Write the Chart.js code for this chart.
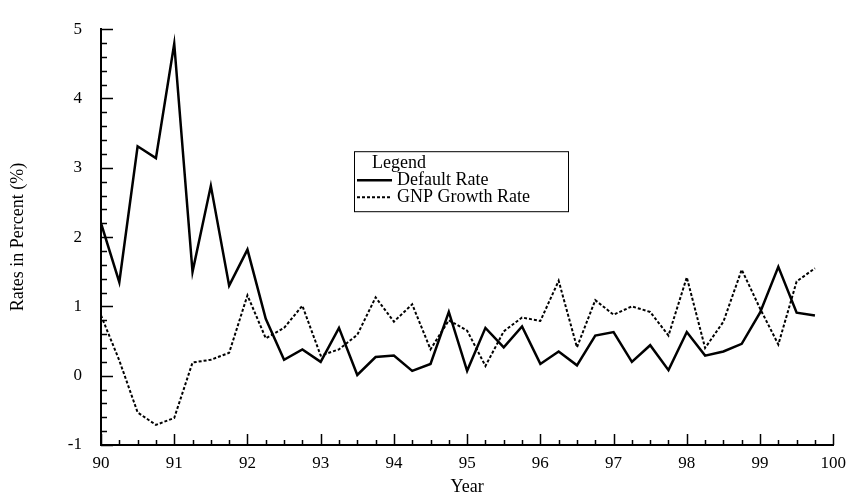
<!DOCTYPE html>
<html>
<head>
<meta charset="utf-8">
<script src="https://cdn.jsdelivr.net/npm/chart.js@4.4.1/dist/chart.umd.min.js"></script>
<style>
  html, body { margin: 0; padding: 0; background: #fff; }
  #wrap { width: 854px; height: 496px; }
</style>
</head>
<body>
<div id="wrap"><canvas id="rates"></canvas></div>
<script>
// Quarterly observations, 1990 through 1999
const quarters = [
  90.00, 90.25, 90.50, 90.75, 91.00, 91.25, 91.50, 91.75,
  92.00, 92.25, 92.50, 92.75, 93.00, 93.25, 93.50, 93.75,
  94.00, 94.25, 94.50, 94.75, 95.00, 95.25, 95.50, 95.75,
  96.00, 96.25, 96.50, 96.75, 97.00, 97.25, 97.50, 97.75,
  98.00, 98.25, 98.50, 98.75, 99.00, 99.25, 99.50, 99.75
];

const defaultRate = [
  2.20, 1.35, 3.31, 3.14, 4.79, 1.50, 2.74, 1.30,
  1.82, 0.82, 0.23, 0.38, 0.20, 0.69, 0.01, 0.27,
  0.29, 0.07, 0.17, 0.92, 0.07, 0.69, 0.41, 0.71,
  0.17, 0.35, 0.15, 0.58, 0.63, 0.20, 0.44, 0.08,
  0.63, 0.29, 0.35, 0.46, 0.91, 1.57, 0.91, 0.87
];

const gnpGrowth = [
  0.87, 0.22, -0.53, -0.71, -0.61, 0.19, 0.23, 0.33,
  1.16, 0.54, 0.69, 1.01, 0.29, 0.38, 0.59, 1.13,
  0.78, 1.03, 0.38, 0.80, 0.65, 0.14, 0.64, 0.84,
  0.79, 1.37, 0.41, 1.09, 0.88, 1.00, 0.92, 0.58,
  1.42, 0.40, 0.78, 1.53, 0.97, 0.45, 1.36, 1.55
];

const seriesNames = ['Default Rate', 'GNP Growth Rate'];
const xRange = [90, 100];
const yRange = [-1, 5];

const serif = "'Liberation Serif', 'DejaVu Serif', serif";

function toPoints(values) {
  return quarters.map((q, i) => ({ x: q, y: values[i] }));
}

// Inward tick marks (major + minor), drawn through the chart's scales
const insideTicks = {
  id: 'insideTicks',
  afterDraw(chart) {
    const { ctx, chartArea } = chart;
    const xs = chart.scales.x;
    const ys = chart.scales.y;
    ctx.save();
    ctx.strokeStyle = '#000';
    ctx.lineWidth = 1.5;
    ctx.beginPath();
    for (let i = 0; i <= (xRange[1] - xRange[0]) * 4; i++) {
      const v = xRange[0] + i / 4;
      const px = Math.round(xs.getPixelForValue(v)) + 0.5;
      const len = i % 4 === 0 ? 11 : 5;
      ctx.moveTo(px, chartArea.bottom);
      ctx.lineTo(px, chartArea.bottom - len);
    }
    for (let i = 0; i <= (yRange[1] - yRange[0]) * 5; i++) {
      const v = yRange[0] + i / 5;
      const py = Math.round(ys.getPixelForValue(v)) + 0.5;
      const len = i % 5 === 0 ? 12 : 6;
      ctx.moveTo(chartArea.left, py);
      ctx.lineTo(chartArea.left + len, py);
    }
    ctx.stroke();
    ctx.restore();
  }
};

// Boxed legend with a heading, like the original figure
const boxLegend = {
  id: 'boxLegend',
  afterDraw(chart) {
    const { ctx, chartArea } = chart;
    const left = chartArea.left + 253;
    const top = chartArea.top + 122;
    const w = 214, h = 60;
    ctx.save();
    ctx.strokeStyle = '#000';
    ctx.lineWidth = 1;
    ctx.fillStyle = '#fff';
    ctx.fillRect(left, top, w, h);
    ctx.strokeRect(left + 0.5, top + 0.5, w, h);
    ctx.fillStyle = '#000';
    ctx.font = '18px ' + serif;
    ctx.textBaseline = 'middle';
    ctx.fillText('Legend', left + 18, top + 12);
    chart.data.datasets.forEach((ds, i) => {
      const y = top + 29 + i * 17;
      ctx.beginPath();
      ctx.lineWidth = ds.borderWidth;
      ctx.setLineDash(ds.borderDash || []);
      ctx.moveTo(left + 3, y);
      ctx.lineTo(left + 38, y);
      ctx.stroke();
      ctx.setLineDash([]);
      ctx.fillText(ds.label, left + 43, y);
    });
    ctx.restore();
  }
};

new Chart(document.getElementById('rates'), {
  type: 'line',
  data: {
    datasets: [
      {
        label: seriesNames[0],
        data: toPoints(defaultRate),
        borderColor: '#000',
        borderWidth: 2.5,
        pointRadius: 0,
        tension: 0,
        fill: false
      },
      {
        label: seriesNames[1],
        data: toPoints(gnpGrowth),
        borderColor: '#000',
        borderWidth: 2,
        borderDash: [3, 2],
        pointRadius: 0,
        tension: 0,
        fill: false
      }
    ]
  },
  options: {
    responsive: true,
    maintainAspectRatio: false,
    animation: false,
    layout: { padding: { left: 0, top: 13, right: 19, bottom: 0 } },
    plugins: {
      legend: { display: false },
      tooltip: { enabled: false }
    },
    scales: {
      x: {
        type: 'linear',
        min: xRange[0],
        max: xRange[1],
        grid: { display: false, drawTicks: false },
        border: { display: true, color: '#000', width: 2 },
        ticks: {
          stepSize: 1,
          padding: 8,
          color: '#000',
          font: { family: serif, size: 17 },
          maxRotation: 0
        },
        title: {
          display: true,
          text: 'Year',
          color: '#000',
          font: { family: serif, size: 18, lineHeight: 1 },
          padding: { top: 0, bottom: 0 }
        },
        afterFit(scale) { scale.height = 51; }
      },
      y: {
        min: yRange[0],
        max: yRange[1],
        grid: { display: false, drawTicks: false },
        border: { display: true, color: '#000', width: 2 },
        ticks: {
          stepSize: 1,
          padding: 19,
          color: '#000',
          font: { family: serif, size: 17 }
        },
        title: {
          display: true,
          text: 'Rates in Percent (%)',
          color: '#000',
          font: { family: serif, size: 18, lineHeight: 1 },
          padding: { top: 9, bottom: 0 }
        },
        afterFit(scale) { scale.width = 101; }
      }
    }
  },
  plugins: [insideTicks, boxLegend]
});
</script>
</body>
</html>
